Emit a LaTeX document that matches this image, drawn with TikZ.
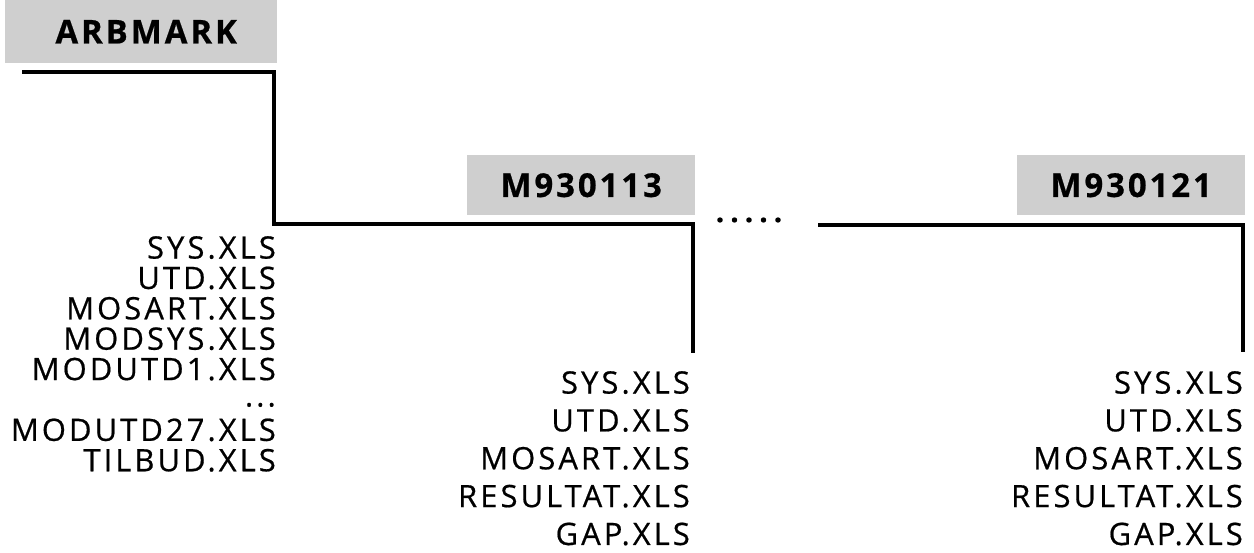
\documentclass[tikz,border=0pt]{standalone}
\usepackage{fontspec}
\setmainfont{Open Sans}[LetterSpace=10, FakeBold=0.6]
\usetikzlibrary{positioning}

\begin{document}
\begin{tikzpicture}[
  x=1bp, y=-1bp,
  every node/.style={font=\fontsize{31}{30.5}\selectfont, inner sep=0pt},
  dirbox/.style={
    fill=black!19,
    minimum width=228bp,
    minimum height=60bp,
    anchor=north west,
    font=\fontsize{33}{33}\selectfont\bfseries\addfontfeature{LetterSpace=9}
  },
  filelist/.style={
    anchor=north east,
    align=right
  },
  tree/.style={
    line width=4bp
  }
]
\useasboundingbox (0,0) rectangle (1254,553);

%-----------------------------
% Directory headers
%-----------------------------
\node[dirbox, minimum width=272bp, minimum height=63bp] (arbmark) at (5,0) {\hspace{10bp}ARBMARK};
\node[dirbox] (m113) at (467,155) {M930113};
\node[dirbox] (m121) at (1017,155) {M930121};

%-----------------------------
% Tree lines
%-----------------------------
\coordinate (root)     at (22,72);
\coordinate (fork)     at (274,224);
\coordinate (leaf113)  at (693,353);
\coordinate (start121) at (818,225);
\coordinate (leaf121)  at (1243,352);

\draw[tree] (root) -| (fork) -| (leaf113);
\draw[tree] (start121) -| (leaf121);

\node[font=\fontsize{30}{30}\selectfont\bfseries\addfontfeature{LetterSpace=20}] (gap) at (749,220) {.....};

%-----------------------------
% File lists
%-----------------------------
\node[filelist] (arbfiles) at (276,236) {SYS.XLS\\UTD.XLS\\MOSART.XLS\\MODSYS.XLS\\MODUTD1.XLS\\\raisebox{4bp}{...}\\MODUTD27.XLS\\TILBUD.XLS};
\node[filelist, font=\fontsize{31}{38}\selectfont] (files113) at (690,371) {SYS.XLS\\UTD.XLS\\MOSART.XLS\\RESULTAT.XLS\\GAP.XLS};
\node[filelist, font=\fontsize{31}{38}\selectfont] (files121) at (1243,371) {SYS.XLS\\UTD.XLS\\MOSART.XLS\\RESULTAT.XLS\\GAP.XLS};

\end{tikzpicture}
\end{document}
